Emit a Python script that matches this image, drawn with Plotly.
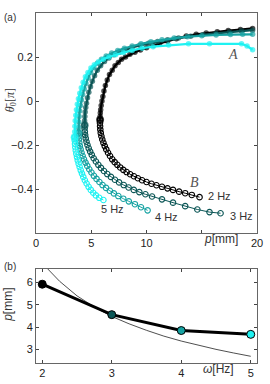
import plotly.graph_objects as go

# ---------------- data: panel (a) ----------------
# 2 Hz
p2_A = [5.80, 5.80, 5.82, 5.85, 5.90, 5.97, 6.05, 6.15, 6.28, 6.45, 6.65, 6.90, 7.15, 7.45, 7.75, 8.10, 8.50, 8.95, 9.45, 10.0, 10.6, 11.2, 11.9, 12.7, 13.6, 14.5, 15.4, 16.4, 17.4, 18.5, 19.6]
t2_A = [-0.085, -0.07, -0.055, -0.04, -0.02, 0.0, 0.02, 0.045, 0.07, 0.095, 0.12, 0.14, 0.16, 0.175, 0.19, 0.20, 0.212, 0.222, 0.232, 0.242, 0.252, 0.262, 0.272, 0.283, 0.295, 0.303, 0.309, 0.315, 0.32, 0.325, 0.33]
p2_B = [5.80, 5.79, 5.80, 5.82, 5.86, 5.92, 6.00, 6.10, 6.22, 6.36, 6.52, 6.70, 6.90, 7.12, 7.36, 7.62, 7.90, 8.20, 8.52, 8.86, 9.22, 9.60, 10.0, 10.45, 10.9, 11.4, 11.9, 12.4, 12.95, 13.5, 14.1, 14.8]
t2_B = [-0.085, -0.10, -0.115, -0.13, -0.145, -0.16, -0.175, -0.19, -0.205, -0.22, -0.235, -0.25, -0.265, -0.278, -0.29, -0.302, -0.313, -0.323, -0.333, -0.342, -0.351, -0.36, -0.368, -0.376, -0.383, -0.39, -0.397, -0.404, -0.412, -0.419, -0.427, -0.437]

# 3 Hz
p3_A = [4.40, 4.40, 4.42, 4.45, 4.50, 4.57, 4.66, 4.78, 4.93, 5.10, 5.30, 5.55, 5.85, 6.20, 6.60, 7.05, 7.55, 8.10, 8.70, 9.40, 10.2, 11.0, 11.9, 12.9, 14.0, 15.1, 16.3, 17.5, 18.6, 19.6]
t3_A = [-0.11, -0.09, -0.07, -0.05, -0.03, -0.01, 0.015, 0.04, 0.065, 0.09, 0.115, 0.14, 0.16, 0.18, 0.195, 0.21, 0.222, 0.233, 0.243, 0.253, 0.262, 0.27, 0.278, 0.286, 0.294, 0.301, 0.307, 0.313, 0.318, 0.322]
p3_B = [4.40, 4.40, 4.42, 4.45, 4.50, 4.57, 4.66, 4.77, 4.90, 5.05, 5.22, 5.42, 5.64, 5.88, 6.15, 6.45, 6.78, 7.14, 7.52, 7.94, 8.38, 8.85, 9.35, 9.90, 10.5, 11.4, 12.4, 13.5, 14.6, 15.7, 16.7]
t3_B = [-0.11, -0.125, -0.14, -0.155, -0.17, -0.185, -0.20, -0.215, -0.23, -0.245, -0.26, -0.275, -0.29, -0.304, -0.318, -0.332, -0.345, -0.358, -0.37, -0.382, -0.393, -0.404, -0.414, -0.424, -0.434, -0.447, -0.462, -0.478, -0.493, -0.505, -0.51]

# 4 Hz
p4_A = [3.85, 3.85, 3.87, 3.90, 3.95, 4.02, 4.11, 4.22, 4.36, 4.52, 4.72, 4.95, 5.22, 5.55, 5.92, 6.35, 6.85, 7.40, 8.00, 8.70, 9.50, 10.4, 11.4, 12.5, 13.7, 15.0, 16.3, 17.6, 18.7, 19.6]
t4_A = [-0.145, -0.12, -0.095, -0.07, -0.045, -0.02, 0.005, 0.03, 0.055, 0.08, 0.105, 0.13, 0.152, 0.172, 0.19, 0.205, 0.218, 0.23, 0.24, 0.25, 0.26, 0.269, 0.278, 0.286, 0.292, 0.297, 0.30, 0.302, 0.303, 0.303]
p4_B = [3.85, 3.86, 3.88, 3.92, 3.97, 4.04, 4.12, 4.22, 4.34, 4.48, 4.64, 4.82, 5.02, 5.24, 5.48, 5.74, 6.02, 6.34, 6.68, 7.05, 7.45, 7.90, 8.40, 8.95, 9.50, 10.1]
t4_B = [-0.145, -0.16, -0.175, -0.19, -0.205, -0.22, -0.235, -0.25, -0.265, -0.28, -0.295, -0.31, -0.325, -0.34, -0.354, -0.368, -0.382, -0.395, -0.408, -0.42, -0.432, -0.444, -0.456, -0.469, -0.483, -0.497]

# 5 Hz
p5_A = [3.50, 3.50, 3.52, 3.55, 3.60, 3.66, 3.74, 3.84, 3.96, 4.10, 4.27, 4.47, 4.70, 4.97, 5.28, 5.65, 6.10, 6.60, 7.20, 7.90, 8.70, 9.60, 10.6, 12.0, 13.8, 15.7, 18.6, 19.1, 19.6]
t5_A = [-0.165, -0.14, -0.115, -0.09, -0.065, -0.04, -0.015, 0.01, 0.035, 0.06, 0.085, 0.11, 0.13, 0.15, 0.165, 0.178, 0.19, 0.20, 0.21, 0.22, 0.23, 0.24, 0.247, 0.254, 0.26, 0.26, 0.26, 0.25, 0.233]
p5_B = [3.50, 3.51, 3.53, 3.56, 3.60, 3.65, 3.71, 3.78, 3.86, 3.95, 4.05, 4.16, 4.28, 4.42, 4.58, 4.76, 4.96, 5.18, 5.42, 5.72, 6.10]
t5_B = [-0.165, -0.18, -0.195, -0.21, -0.225, -0.24, -0.255, -0.27, -0.285, -0.30, -0.315, -0.33, -0.345, -0.36, -0.375, -0.39, -0.404, -0.417, -0.429, -0.44, -0.45]

freq_labels = ["2 Hz", "3 Hz", "4 Hz", "5 Hz"]
freq_label_pos = [(15.35, -0.433), (17.4, -0.522), (10.6, -0.526), (5.7, -0.49)]
colors = ["#000000", "#0b5656", "#17a3a3", "#1ff2f2"]

# ---------------- data: panel (b) ----------------
omega = [2, 3, 4, 5]
p_mean = [5.92, 4.56, 3.85, 3.68]
omega_fit = [2.08, 2.25, 2.5, 2.75, 3.0, 3.25, 3.5, 3.75, 4.0, 4.25, 4.5, 4.75, 5.0]
p_fit = [6.60, 6.05, 5.40, 4.90, 4.48, 4.15, 3.86, 3.60, 3.38, 3.18, 3.01, 2.85, 2.70]

branches_A = [(p2_A, t2_A), (p3_A, t3_A), (p4_A, t4_A), (p5_A, t5_A)]
branches_B = [(p2_B, t2_B), (p3_B, t3_B), (p4_B, t4_B), (p5_B, t5_B)]

fig = go.Figure()

# B branches (open circles)
for (px, ty), c in zip(branches_B, colors):
    fig.add_trace(go.Scatter(
        x=px, y=ty, mode="lines+markers", xaxis="x", yaxis="y",
        line=dict(color=c, width=1),
        marker=dict(symbol="circle-open", size=5.5, color=c, line=dict(width=1.1, color=c)),
        showlegend=False, hoverinfo="skip"))

# A branches (filled)
for (px, ty), c in zip(branches_A, colors):
    sizes = [8] + [5.5] * (len(px) - 1)
    fig.add_trace(go.Scatter(
        x=px, y=ty, mode="lines+markers", xaxis="x", yaxis="y",
        line=dict(color=c, width=2.2),
        marker=dict(symbol="circle", size=sizes, color=c, line=dict(width=0)),
        showlegend=False, hoverinfo="skip"))

# panel (b)
fig.add_trace(go.Scatter(
    x=omega_fit, y=p_fit, mode="lines", xaxis="x2", yaxis="y2",
    line=dict(color="#222222", width=0.8), showlegend=False, hoverinfo="skip"))
fig.add_trace(go.Scatter(
    x=omega, y=p_mean, mode="lines+markers", xaxis="x2", yaxis="y2",
    line=dict(color="#000000", width=3),
    marker=dict(size=8, color=colors, line=dict(color="#000000", width=1)),
    showlegend=False, hoverinfo="skip"))

tickfont = dict(family="Liberation Sans, Arial, sans-serif", size=11, color="#222222")
axis_common = dict(showgrid=False, zeroline=False, showline=True, mirror="ticks",
                   linecolor="#666666", linewidth=1, ticks="inside", ticklen=3,
                   tickcolor="#444444", tickfont=tickfont, automargin=False)

sans = "Liberation Sans, Arial, sans-serif"
annotations = []
for lab, (ax, ay) in zip(freq_labels, freq_label_pos):
    annotations.append(dict(x=ax, y=ay, xref="x", yref="y", text=lab, showarrow=False,
                            xanchor="left", yanchor="middle",
                            font=dict(family=sans, size=11, color="#333333")))
serif = dict(family="Liberation Serif, DejaVu Serif, serif", size=14, color="#555555")


def paper_note(x, y, text, size=12, angle=0, family=sans):
    return dict(x=x, y=y, xref="paper", yref="paper", text=text, showarrow=False,
                xanchor="center", yanchor="middle", textangle=angle,
                font=dict(family=family, size=size, color="#333333"))


annotations += [
    dict(x=17.8, y=0.212, xref="x", yref="y", text="<i>A</i>", showarrow=False,
         xanchor="center", yanchor="middle", font=serif),
    dict(x=14.3, y=-0.37, xref="x", yref="y", text="<i>B</i>", showarrow=False,
         xanchor="center", yanchor="middle", font=serif),
    paper_note(-0.118, 0.986, "(a)", size=10),
    paper_note(-0.118, 0.277, "(b)", size=10),
    paper_note(-0.113, 0.751, "<i>θ̄</i><sub>0</sub>[<i>π</i>]", size=12, angle=-90,
               family="Liberation Serif, DejaVu Serif, serif"),
    paper_note(-0.127, 0.166, "<i>p</i>[mm]", size=12, angle=-90),
    paper_note(0.837, 0.354, "<i>p</i>[mm]", size=12),
    paper_note(0.828, -0.017, "<i>ω</i>[Hz]", size=12),
]

fig.update_layout(
    width=270, height=384,
    margin=dict(l=36, r=13, t=13, b=21),
    paper_bgcolor="white", plot_bgcolor="white",
    xaxis=dict(domain=[0, 1], anchor="y", range=[0, 20],
               tickvals=[0, 5, 10, 20], ticktext=["0", "5", "10", "20"],
               minor=dict(tickvals=[15], ticks="inside", ticklen=3, tickcolor="#444444", showgrid=False),
               **axis_common),
    yaxis=dict(domain=[0.3714, 1.0], anchor="x", range=[-0.6, 0.4],
               tickvals=[-0.4, -0.2, 0, 0.2], ticktext=["−0.4", "−0.2", "0", "0.2"], **axis_common),
    xaxis2=dict(domain=[0, 1], anchor="y2", range=[1.91, 5.09],
                tickvals=[2, 3, 4, 5], ticktext=["2", "3", "4", "5"], **axis_common),
    yaxis2=dict(domain=[0.0, 0.2686], anchor="x2", range=[2.4, 6.6],
                tickvals=[3, 4, 5, 6], ticktext=["3", "4", "5", "6"], **axis_common),
    annotations=annotations,
)

fig.write_html("out.html", config={"displayModeBar": False},
               post_script="document.body.style.margin='0';document.body.style.overflow='hidden';")
